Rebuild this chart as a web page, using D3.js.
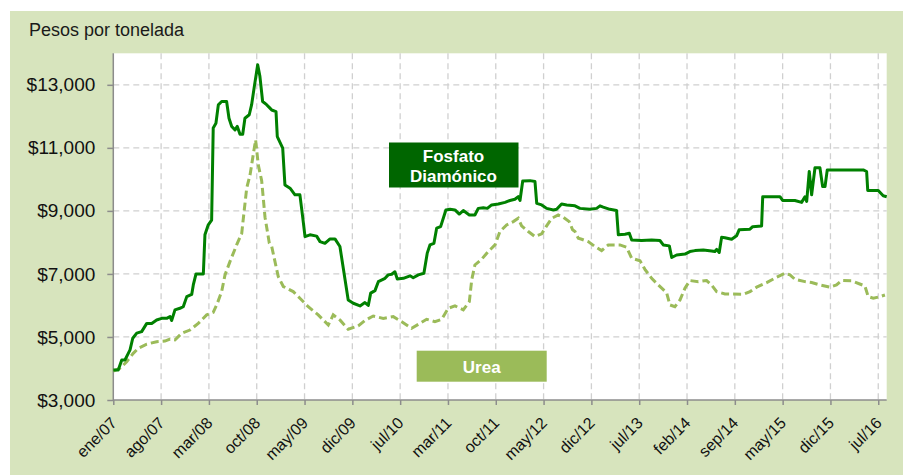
<!DOCTYPE html>
<html>
<head>
<meta charset="utf-8">
<script src="https://cdn.jsdelivr.net/npm/d3@7"></script>
<style>
  html, body { margin: 0; padding: 0; background: #ffffff; }
  svg { display: block; }
  text { font-family: "Liberation Sans", Arial, sans-serif; }
</style>
</head>
<body>
<svg id="chart" width="909" height="475"></svg>
<script>
// ---- Data (week index since ene/07, pesos per tonne) ----
const tickLabels = ["ene/07","ago/07","mar/08","oct/08","may/09","dic/09","jul/10","mar/11",
  "oct/11","may/12","dic/12","jul/13","feb/14","sep/14","may/15","dic/15","jul/16"];
const weeksPerTick = 30;
const yTicks = [3000, 5000, 7000, 9000, 11000, 13000];
const seriesNames = ["Fosfato Diamónico", "Urea"];

const dap = [
  [0,3950],[3.1,3950],[5.3,4270],[7.3,4270],[9.4,4480],[10.5,4590],[12.2,4960],[14.7,5120],
  [17.8,5170],[21,5430],[24.1,5430],[27.2,5540],[30.4,5590],[33.5,5590],[35.6,5650],[36.6,5520],
  [38.7,5860],[41.8,5910],[43.9,5960],[46.1,6280],[49.2,6350],[50.2,6650],[51.9,7000],[56.5,7000],
  [57.5,8240],[59.6,8560],[61.7,8710],[62.7,11630],[64.4,11780],[65.9,12365],[68,12470],[71.1,12470],
  [72.6,11940],[74.3,11680],[76.4,11570],[77.8,11680],[79.5,11430],[81.2,11430],[82.6,11940],
  [85.3,12050],[86.8,12370],[88.5,12950],[90.6,13635],[92,13270],[93.7,12470],[96.2,12370],
  [98.3,12260],[99.4,12200],[102.1,12150],[102.9,11360],[106.3,10990],[107.7,9825],[110.9,9720],
  [114,9510],[117.1,9510],[118.8,8820],[120.3,8185],[123.4,8240],[127.6,8200],[129.7,8025],
  [132.8,7970],[136,8110],[139.1,8110],[142.2,7870],[147.4,6175],[150.6,6070],[154.8,5985],
  [157.9,6090],[160,6000],[161.5,6390],[164.2,6470],[166.3,6755],[170.5,6860],[172.5,6970],
  [174.7,6990],[176.7,7070],[178.2,6840],[182,6860],[186.2,6940],[188.2,6880],[191.4,6970],
  [194.9,7020],[197,7660],[198.7,7920],[201.2,7970],[202.9,8450],[205.4,8500],[208.7,9030],
  [211.3,9050],[214.4,9030],[217.1,8900],[219.6,9010],[223.4,8870],[226.9,8870],[229,9080],
  [232.2,9100],[234.7,9080],[237.4,9190],[241.6,9220],[245.8,9270],[248.9,9330],[252,9370],
  [254.1,9450],[255.2,9330],[256.9,9950],[261.5,9960],[264.6,9930],[265.7,9240],[268.8,9190],
  [271.9,9080],[276.1,9030],[278.2,9050],[281.3,9220],[284.5,9190],[289.7,9160],[292.8,9080],
  [299.1,9050],[303.3,9080],[305.4,9160],[307.4,9120],[311.6,9050],[315.8,9010],[316.9,8240],
  [321.1,8260],[323.8,8290],[325.3,8080],[331.5,8060],[337.8,8080],[343,8060],[345.1,7920],
  [348.9,7890],[350.4,7520],[353.5,7600],[358.7,7630],[361.8,7710],[365,7740],[370.2,7760],
  [375.4,7730],[377.5,7710],[378.6,7780],[380.2,7680],[381.7,8160],[383.8,8150],[388,8100],
  [391.1,8210],[392.7,8400],[399.5,8420],[401.2,8500],[406.8,8520],[407.5,9450],[418.3,9450],
  [420,9330],[427.7,9330],[431.9,9270],[434,9450],[435.1,9300],[436.7,10250],[438.2,9510],
  [440.3,10370],[443.4,10370],[445.1,9770],[446.6,9770],[448,10300],[470.6,10300],[472.7,10250],
  [473.4,9650],[480,9650],[483.1,9480],[485.3,9450]
];

const urea = [
  [0,3920],[4.2,4005],[8.4,4215],[12.5,4480],[15.7,4640],[21,4770],[27.2,4850],[32.4,4870],
  [35.6,4935],[38.7,4905],[42.9,5115],[48.1,5220],[53.3,5430],[58.6,5700],[62.7,5780],[65.3,6070],
  [68,6440],[70.1,6970],[73.2,7390],[77.4,7920],[80.6,8290],[81.6,8765],[83.7,9720],[85.8,10140],
  [87.8,10780],[89.3,11250],[91,10450],[93.1,9960],[95.2,8800],[97.9,7975],[99.4,7870],
  [103.5,6915],[106.7,6600],[112.9,6440],[117.1,6230],[122.3,5960],[128.6,5700],[134.9,5380],
  [138,5700],[142.2,5540],[147.4,5245],[153.7,5350],[157.9,5520],[163.1,5665],[169.4,5590],
  [175.7,5645],[181,5485],[187.2,5275],[192.4,5430],[196.6,5560],[201.8,5485],[206,5560],
  [210.2,5910],[214.4,5985],[219.6,5860],[223.4,6120],[224.9,6810],[226.9,7285],[231.1,7465],
  [235.3,7710],[239.5,7920],[242.6,8345],[246.8,8555],[251,8660],[254.1,8765],[256.2,8525],
  [260.4,8345],[264.6,8185],[268.8,8270],[271.9,8525],[275.1,8765],[279.2,8870],[282.3,8800],
  [286.1,8660],[288.2,8400],[289.7,8345],[291.8,8130],[293.9,8100],[298,8025],[302.2,7870],
  [306.4,7740],[310.6,7920],[317.9,7920],[322.1,7845],[325.3,7495],[330.5,7420],[333.6,7145],
  [337.8,6860],[342,6650],[347.2,6405],[349.3,6015],[352.4,5960],[355.6,6175],[358.7,6545],
  [361.8,6790],[367.1,6755],[372.3,6790],[375.4,6650],[378.6,6440],[383.8,6365],[395.3,6355],
  [399.5,6440],[403.7,6580],[410,6725],[416.2,6895],[421.4,7020],[424.6,6970],[427.7,6830],
  [434,6755],[438.2,6725],[443.4,6650],[449.6,6580],[453.8,6650],[457,6790],[463.2,6780],
  [468.4,6680],[471.6,6620],[473.7,6280],[476.9,6230],[481.1,6280],[484.2,6330]
];

// ---- Layout ----
const svg = d3.select("#chart");
const plot = { left: 113.3, right: 886.7, top: 53.3, bottom: 400 };
const lastWeek = 485.3;

svg.append("rect").attr("x", 10).attr("y", 11).attr("width", 893).attr("height", 464)
  .attr("fill", "#d7e4bd");

svg.append("text").attr("x", 29).attr("y", 36).attr("font-size", 18).attr("fill", "#1a1a1a")
  .text("Pesos por tonelada");

const x = d3.scaleLinear().domain([0, lastWeek]).range([plot.left, plot.right]);
const y = d3.scaleLinear().domain([3000, 14000]).range([plot.bottom, plot.top]);

svg.append("rect").attr("x", plot.left).attr("y", plot.top)
  .attr("width", plot.right - plot.left).attr("height", plot.bottom - plot.top)
  .attr("fill", "#ffffff");

const xTickVals = tickLabels.map((d, i) => i * weeksPerTick);

// grid
const grid = svg.append("g").attr("stroke", "#d0d0d0").attr("stroke-width", 1.3)
  .attr("stroke-dasharray", "6,4");
grid.selectAll("line.h").data(yTicks.filter(v => v > 3000)).enter().append("line")
  .attr("x1", plot.left).attr("x2", plot.right)
  .attr("y1", d => y(d)).attr("y2", d => y(d));
grid.selectAll("line.v").data(xTickVals.filter(v => v > 0)).enter().append("line")
  .attr("x1", d => x(d)).attr("x2", d => x(d))
  .attr("y1", plot.top).attr("y2", plot.bottom);

// axes
const yAxis = d3.axisLeft(y).tickValues(yTicks).tickSize(6).tickPadding(12)
  .tickFormat(d => "$" + d3.format(",")(d));
const gy = svg.append("g").attr("transform", `translate(${plot.left},0)`).call(yAxis);
gy.select(".domain").attr("stroke", "#8c8c8c").attr("stroke-width", 1.5).attr("d", `M0,${plot.top}V${plot.bottom}`);
gy.selectAll(".tick line").attr("stroke", "#8c8c8c").attr("stroke-width", 1.5);
gy.selectAll(".tick text").attr("font-size", 19).attr("fill", "#111")
  .attr("font-family", "'Liberation Sans', Arial, sans-serif");

const xAxis = d3.axisBottom(x).tickValues(xTickVals).tickSize(5)
  .tickFormat((d, i) => tickLabels[i]);
const gx = svg.append("g").attr("transform", `translate(0,${plot.bottom})`).call(xAxis);
gx.select(".domain").attr("stroke", "#8c8c8c").attr("stroke-width", 1.5).attr("d", `M${plot.left},0H${plot.right}`);
gx.selectAll(".tick line").attr("stroke", "#8c8c8c").attr("stroke-width", 1.5);
gx.selectAll(".tick text").attr("font-size", 16).attr("fill", "#111")
  .attr("font-family", "'Liberation Sans', Arial, sans-serif")
  .attr("text-anchor", "end").attr("dy", null).attr("y", null)
  .attr("transform", "translate(4,24) rotate(-45)");

// lines
const line = d3.line().x(d => x(d[0])).y(d => y(d[1])).curve(d3.curveLinear);
svg.append("path").datum(urea).attr("d", line).attr("fill", "none")
  .attr("stroke", "#9bbb59").attr("stroke-width", 3).attr("stroke-dasharray", "8,4");
svg.append("path").datum(dap).attr("d", line).attr("fill", "none")
  .attr("stroke", "#008000").attr("stroke-width", 3).attr("stroke-linejoin", "round");

// label boxes
svg.append("rect").attr("x", 389).attr("y", 142.5).attr("width", 129.5).attr("height", 45)
  .attr("fill", "#006600");
const t1 = svg.append("text").attr("x", 453.5).attr("text-anchor", "middle").attr("font-size", 17)
  .attr("font-weight", "bold").attr("fill", "#ffffff");
t1.append("tspan").attr("x", 453.5).attr("y", 161.5).text("Fosfato");
t1.append("tspan").attr("x", 453.5).attr("y", 181.5).text("Diamónico");

svg.append("rect").attr("x", 416.7).attr("y", 350.7).attr("width", 130).attr("height", 31)
  .attr("fill", "#9bbb59");
svg.append("text").attr("x", 481.7).attr("y", 372.5).attr("text-anchor", "middle")
  .attr("font-size", 17).attr("font-weight", "bold").attr("fill", "#ffffff").text(seriesNames[1]);
</script>
</body>
</html>
